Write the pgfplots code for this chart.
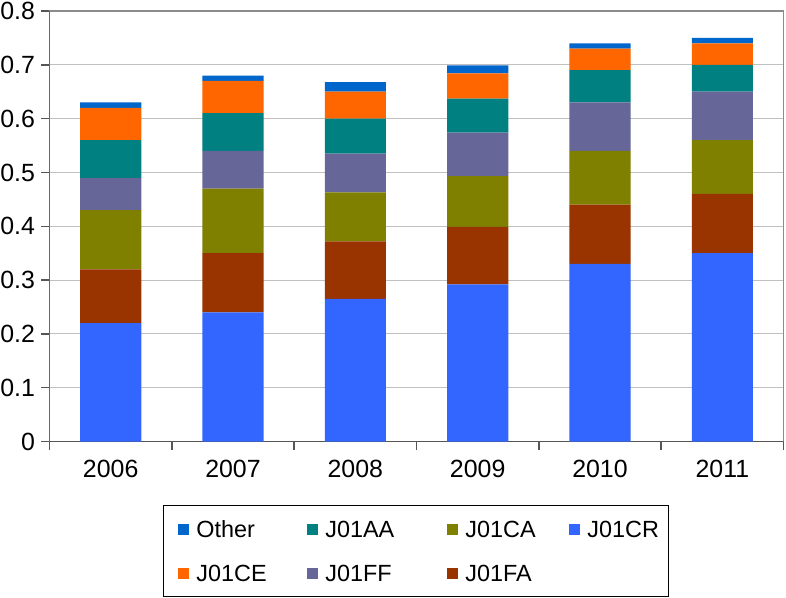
\documentclass[border=0pt]{standalone}
\usepackage{pgfplots}
\pgfplotsset{compat=1.18}
\usepackage{fontspec}
\setmainfont{Liberation Sans}
\definecolor{cOther}{HTML}{0066CC}
\definecolor{cCE}{HTML}{FF6600}
\definecolor{cAA}{HTML}{008080}
\definecolor{cFF}{HTML}{666699}
\definecolor{cCA}{HTML}{808000}
\definecolor{cFA}{HTML}{993300}
\definecolor{cCR}{HTML}{3366FF}
\definecolor{axisgray}{HTML}{555555}
\definecolor{bordergray}{HTML}{8C8C8C}
\definecolor{gridgray}{HTML}{C0C0C0}
\begin{document}
\begin{tikzpicture}
\useasboundingbox (-49.5bp,-156.5bp) rectangle (736.5bp,441.5bp);
\begin{axis}[
  at={(0bp,0bp)}, anchor=south west,
  scale only axis, width=734bp, height=430.5bp,
  ybar stacked, bar width=0.5,
  xmin=-0.5, xmax=5.5, ymin=0, ymax=0.8,
  /pgf/number format/assume math mode=true,
  xtick={0,1,2,3,4,5},
  xticklabels={2006,2007,2008,2009,2010,2011},
  ytick={0,0.1,0.2,0.3,0.4,0.5,0.6,0.7,0.8},
  yticklabels={0,0.1,0.2,0.3,0.4,0.5,0.6,0.7,0.8},
  x tick label style={font=\fontsize{25}{30}\selectfont, yshift=-7bp},
  y tick label style={font=\fontsize{25}{30}\selectfont, xshift=-3bp},
  x tick style={draw=none},
  y tick style={draw=axisgray, line width=1.5bp},
  ytick pos=left,
  tick align=outside,
  major tick length=8bp,
  extra x ticks={-0.5,0.5,1.5,2.5,3.5,4.5,5.5},
  extra x tick labels={},
  extra x tick style={x tick style={draw=axisgray, line width=1.5bp}, tick align=outside, major tick length=8bp, xtick pos=bottom},
  ymajorgrids,
  grid style={draw=gridgray, line width=1bp},
  axis line style={draw=bordergray, line width=1.5bp},
  legend style={at={(0.1546,-0.1475)}, anchor=north west,
    draw=black, line width=0.8bp, inner xsep=15bp, inner ysep=15bp,
    nodes={inner xsep=0bp, inner ysep=0bp, text height=17bp, text depth=0bp},
    /tikz/column sep=0bp, row sep=27bp,
    /tikz/every odd column/.append style={column sep=7bp},
    font=\fontsize{23.5}{28}\selectfont},
  legend columns=4,
  legend cell align=left,
  legend image code/.code={\fill[#1] (0bp,-6bp) rectangle (11bp,5bp);},
]
\addplot[fill=cCR, draw=none, forget plot] coordinates {(0,0.22) (1,0.24) (2,0.265) (3,0.292) (4,0.33) (5,0.35)};
\addplot[fill=cFA, draw=none, forget plot] coordinates {(0,0.10) (1,0.11) (2,0.107) (3,0.107) (4,0.11) (5,0.11)};
\addplot[fill=cCA, draw=none, forget plot] coordinates {(0,0.11) (1,0.12) (2,0.091) (3,0.094) (4,0.10) (5,0.10)};
\addplot[fill=cFF, draw=none, forget plot] coordinates {(0,0.06) (1,0.07) (2,0.072) (3,0.081) (4,0.09) (5,0.09)};
\addplot[fill=cAA, draw=none, forget plot] coordinates {(0,0.07) (1,0.07) (2,0.065) (3,0.063) (4,0.06) (5,0.05)};
\addplot[fill=cCE, draw=none, forget plot] coordinates {(0,0.06) (1,0.06) (2,0.05) (3,0.047) (4,0.04) (5,0.04)};
\addplot[fill=cOther, draw=none, forget plot] coordinates {(0,0.01) (1,0.01) (2,0.018) (3,0.015) (4,0.01) (5,0.01)};
\draw[axisgray, line width=1.5bp] (rel axis cs:0,1) -- (rel axis cs:0,0) -- (rel axis cs:1,0);
\addlegendimage{fill=cOther, draw=none}
\addlegendentry{\makebox[111bp][l]{Other}}
\addlegendimage{fill=cAA, draw=none}
\addlegendentry{\makebox[122bp][l]{J01AA}}
\addlegendimage{fill=cCA, draw=none}
\addlegendentry{\makebox[104bp][l]{J01CA}}
\addlegendimage{fill=cCR, draw=none}
\addlegendentry{\makebox[66bp][l]{J01CR}}
\addlegendimage{fill=cCE, draw=none}
\addlegendentry{\makebox[111bp][l]{J01CE}}
\addlegendimage{fill=cFF, draw=none}
\addlegendentry{\makebox[122bp][l]{J01FF}}
\addlegendimage{fill=cFA, draw=none}
\addlegendentry{\makebox[104bp][l]{J01FA}}
\end{axis}
\end{tikzpicture}
\end{document}
